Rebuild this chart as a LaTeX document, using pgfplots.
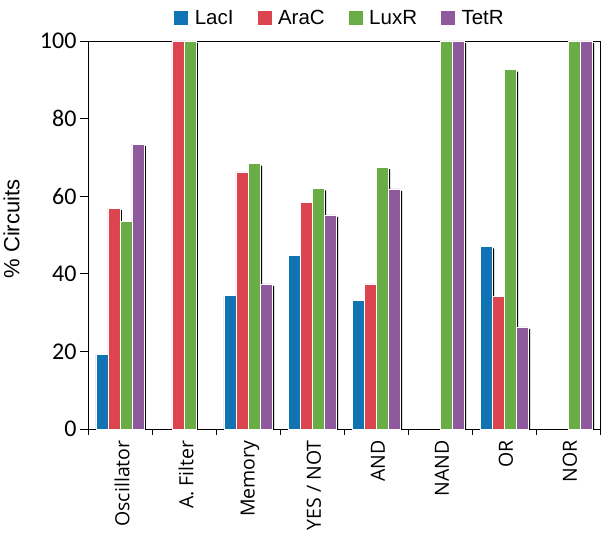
\documentclass[border=0pt]{standalone}
\usepackage{fontspec}
\setmainfont{Liberation Sans}
\newfontfamily\carlito{Carlito}
\newfontfamily\opensans{Open Sans}
\usepackage{pgfplots}
\pgfplotsset{compat=1.18}
\definecolor{cLac}{RGB}{16,115,180}
\definecolor{cAra}{RGB}{220,68,80}
\definecolor{cLux}{RGB}{106,172,70}
\definecolor{cTet}{RGB}{143,90,155}
\tikzset{sh/.style={preaction={fill=black, draw=none, transform canvas={xshift=2pt, yshift=-2pt}}}}
\begin{document}
\begin{tikzpicture}
\begin{axis}[
  scale only axis, width=512pt, height=388pt,
  xmin=-0.5, xmax=7.5, ymin=0, ymax=100,
  ybar, bar width=12pt,
  axis line style={black, line width=0.9pt},
  tick pos=left, tick align=outside,
  xtick={0,...,7},
  xticklabels={Oscillator, A. Filter, Memory, YES / NOT, AND, NAND, OR, NOR},
  major x tick style={draw=none},
  minor xtick={-0.5,0.5,1.5,2.5,3.5,4.5,5.5,6.5,7.5},
  minor x tick style={black, line width=0.8pt},
  minor tick length=6pt,
  major tick length=8pt,
  ytick={0,20,...,100},
  y tick style={black, line width=0.8pt},
  /pgf/number format/assume math mode=true,
  yticklabel style={font=\carlito\fontsize{24}{26}\selectfont},
  xticklabel style={font=\opensans\fontsize{19.5}{21}\selectfont, rotate=90, anchor=east, yshift=-2pt},
  legend style={at={(0.5,1)}, anchor=south, yshift=13pt, xshift=-4pt, draw=none, legend columns=4,
    font=\fontsize{20.5}{22}\selectfont, inner sep=0pt,
    /tikz/every even column/.append style={column sep=22pt},
    /tikz/every odd column/.append style={column sep=5pt}},
  every axis plot/.append style={draw=white, line width=0.5pt},
]
\addplot[fill=cLac, sh, forget plot, bar shift=-18pt] coordinates {(0,19.3) (2,34.4) (3,44.7) (4,33.2) (6,47.1)};
\addplot[fill=cAra, sh, forget plot, bar shift=-6pt] coordinates {(0,56.9) (1,100) (2,66.3) (3,58.4) (4,37.4) (6,34.2)};
\addplot[fill=cLux, sh, forget plot, bar shift=6pt] coordinates {(0,53.6) (1,100) (2,68.4) (3,62.0) (4,67.5) (5,100) (6,92.6) (7,100)};
\addplot[fill=cTet, sh, forget plot, bar shift=18pt] coordinates {(0,73.4) (2,37.4) (3,55.2) (4,61.9) (5,100) (6,26.3) (7,100)};
\addlegendimage{legend image code/.code={\fill[cLac] (0pt,-6.5pt) rectangle (13pt,6.5pt);}}
\addlegendentry{LacI}
\addlegendimage{legend image code/.code={\fill[cAra] (0pt,-6.5pt) rectangle (13pt,6.5pt);}}
\addlegendentry{AraC}
\addlegendimage{legend image code/.code={\fill[cLux] (0pt,-6.5pt) rectangle (13pt,6.5pt);}}
\addlegendentry{LuxR}
\addlegendimage{legend image code/.code={\fill[cTet] (0pt,-6.5pt) rectangle (13pt,6.5pt);}}
\addlegendentry{TetR}
\coordinate (sw) at (rel axis cs:0,0);
\coordinate (ne) at (rel axis cs:1,1);
\coordinate (ml) at (rel axis cs:0,0.5);
\end{axis}
\node[rotate=90, font=\fontsize{22}{24}\selectfont] at ([xshift=-76.5pt,yshift=6pt]ml) {\% Circuits};
\pgfresetboundingbox
\path ([xshift=-88pt,yshift=-109pt]sw) rectangle ([xshift=8pt,yshift=41pt]ne);
\end{tikzpicture}
\end{document}
